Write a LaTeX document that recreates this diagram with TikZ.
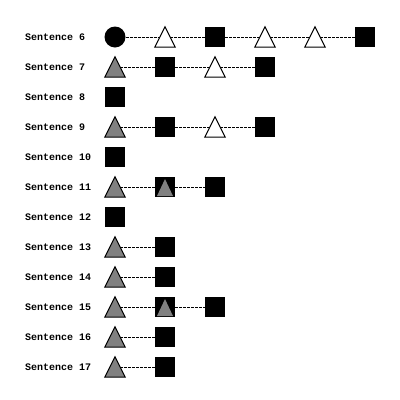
\documentclass[tikz,border=0pt]{standalone}
\usepackage{fontspec}
\setmonofont{Liberation Mono}
\tikzset{
  sq/.style={rectangle, fill=black, minimum size=20pt, inner sep=0pt},
  tribox/.style={rectangle, minimum size=20pt, inner sep=0pt},
  triline/.style={draw=black, line width=1pt, line join=miter},
  circ/.style={circle, fill=black, minimum size=21pt, inner sep=0pt},
  conn/.style={draw=black, line width=0.9pt, dash pattern=on 3pt off 1pt},
  lbl/.style={anchor=west, inner sep=0pt, font=\ttfamily\bfseries\fontsize{10}{12}\selectfont}
}
\newcommand\MyTri[4]{\node[tribox] (#1) at (#2,#3) {};
  \draw[triline, fill=#4] (#1.south west) -- (#1.north) -- (#1.south east) -- cycle;}
\newcommand\MySq[3]{\node[sq] (#1) at (#2,#3) {};}
\newcommand\MySqT[3]{\node[sq] (#1) at (#2,#3) {};
  \fill[gray] ([shift={(-8pt,-9pt)}]#1.center) -- ([yshift=8pt]#1.center) -- ([shift={(8pt,-9pt)}]#1.center) -- cycle;}
% connectors: triangle edges at mid-height
\newcommand\LkTS[2]{\draw[conn] ([xshift=5pt]#1.center) -- (#2.west);}
\newcommand\LkST[2]{\draw[conn] (#1.east) -- ([xshift=-5pt]#2.center);}
\newcommand\LkSS[2]{\draw[conn] (#1.east) -- (#2.west);}
\begin{document}
\begin{tikzpicture}[x=1pt,y=-1pt]
\useasboundingbox (0,0) rectangle (400,400);
% labels
\foreach \n [count=\i from 0] in {6,...,17}{
  \node[lbl] (L\n) at (25,37+30*\i) {Sentence \n};
}
% Row 6
\node[circ] (a1) at (115,37) {};
\MyTri{a2}{165}{37}{white}
\MySq{a3}{215}{37}
\MyTri{a4}{265}{37}{white}
\MyTri{a5}{315}{37}{white}
\MySq{a6}{365}{37}
\draw[conn] (a1.east) -- ([xshift=-5pt]a2.center);
\LkTS{a2}{a3}
\LkST{a3}{a4}
\draw[conn] ([xshift=5pt]a4.center) -- ([xshift=-5pt]a5.center);
\LkTS{a5}{a6}
% Row 7
\MyTri{b1}{115}{67}{gray}
\MySq{b2}{165}{67}
\MyTri{b3}{215}{67}{white}
\MySq{b4}{265}{67}
\LkTS{b1}{b2}
\LkST{b2}{b3}
\LkTS{b3}{b4}
% Row 8
\MySq{c1}{115}{97}
% Row 9
\MyTri{d1}{115}{127}{gray}
\MySq{d2}{165}{127}
\MyTri{d3}{215}{127}{white}
\MySq{d4}{265}{127}
\LkTS{d1}{d2}
\LkST{d2}{d3}
\LkTS{d3}{d4}
% Row 10
\MySq{e1}{115}{157}
% Row 11
\MyTri{f1}{115}{187}{gray}
\MySqT{f2}{165}{187}
\MySq{f3}{215}{187}
\LkTS{f1}{f2}
\LkSS{f2}{f3}
% Row 12
\MySq{g1}{115}{217}
% Row 13
\MyTri{h1}{115}{247}{gray}
\MySq{h2}{165}{247}
\LkTS{h1}{h2}
% Row 14
\MyTri{i1}{115}{277}{gray}
\MySq{i2}{165}{277}
\LkTS{i1}{i2}
% Row 15
\MyTri{j1}{115}{307}{gray}
\MySqT{j2}{165}{307}
\MySq{j3}{215}{307}
\LkTS{j1}{j2}
\LkSS{j2}{j3}
% Row 16
\MyTri{k1}{115}{337}{gray}
\MySq{k2}{165}{337}
\LkTS{k1}{k2}
% Row 17
\MyTri{l1}{115}{367}{gray}
\MySq{l2}{165}{367}
\LkTS{l1}{l2}
\end{tikzpicture}
\end{document}
